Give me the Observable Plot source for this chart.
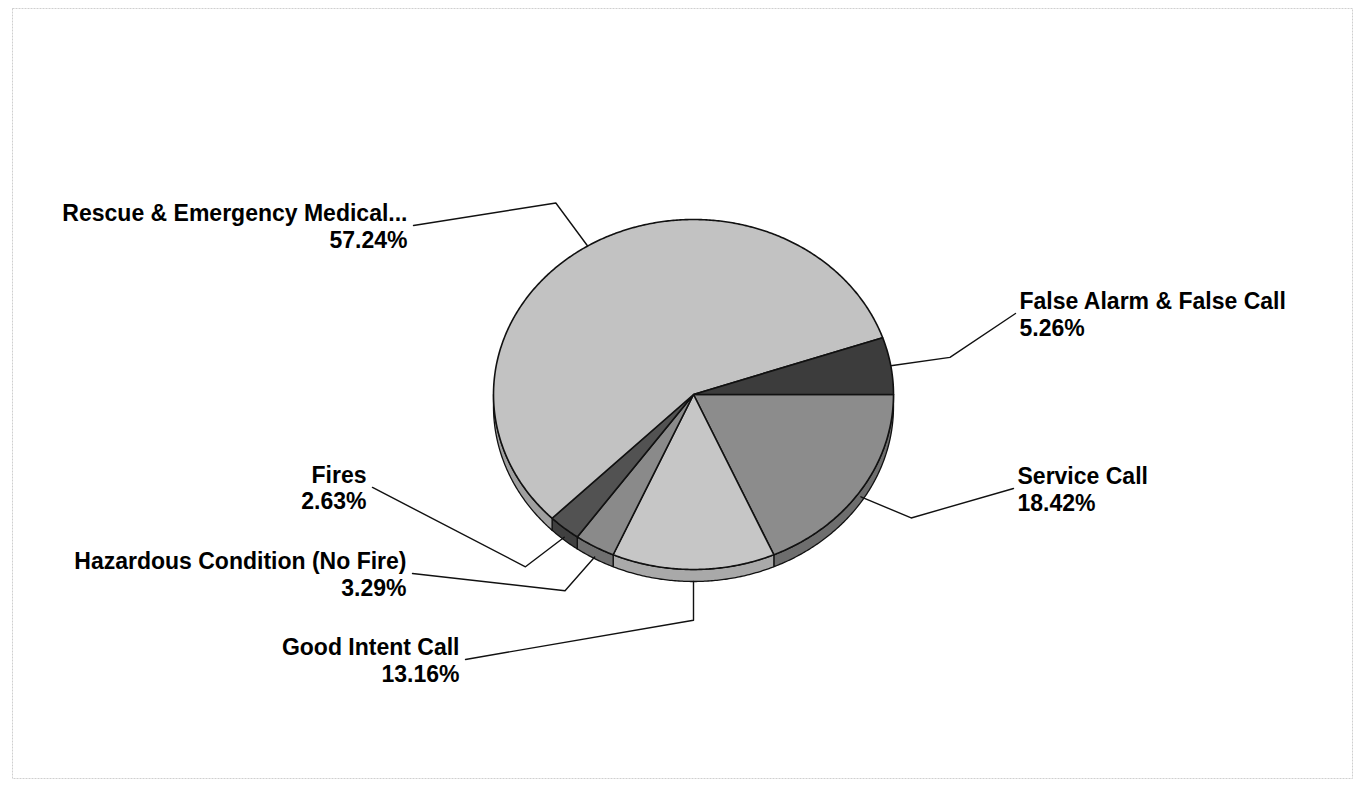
<!DOCTYPE html>
<html>
<head>
<meta charset="utf-8">
<script src="https://cdn.jsdelivr.net/npm/d3@7"></script>
<script src="https://cdn.jsdelivr.net/npm/@observablehq/plot@0.6"></script>
<style>
  html, body { margin: 0; padding: 0; background: #fff; }
  #chart { width: 1362px; height: 785px; }
</style>
</head>
<body>
<div id="chart"></div>
<script>
// ---- data (clockwise from 3 o'clock) ----
const categories = [
  "Service Call",
  "Good Intent Call",
  "Hazardous Condition (No Fire)",
  "Fires",
  "Rescue & Emergency Medical...",
  "False Alarm & False Call"
];
const shares = [18.42, 13.16, 3.29, 2.63, 57.24, 5.26];
const percentLabels = ["18.42%", "13.16%", "3.29%", "2.63%", "57.24%", "5.26%"];

// ---- layout (label anchors in pie-radius units) ----
const labelAnchors = [[1.6, 0.537], [-1.14, 1.514], [-1.405, 1.023], [-1.605, 0.531], [-1.4, -0.966], [1.61, -0.463]];
const topShades = ["#8c8c8c", "#c6c6c6", "#8a8a8a", "#525252", "#c2c2c2", "#3c3c3c"];
const sideShades = ["#6e6e6e", "#a9a9a9", "#707070", "#404040", "#a0a0a0", "#2e2e2e"];

const W = 1362, H = 785;
const rxPx = 200, ryPx = 175, cxPx = 693, cyPx = 394;
const depth = 12 / ryPx;
const frame = {l: 12, t: 8, r: 10, b: 7};

const total = d3.sum(shares);
let acc = 0;
const slices = categories.map((name, i) => {
  const a0 = acc / total * 2 * Math.PI;
  acc += shares[i];
  const a1 = acc / total * 2 * Math.PI;
  return {name, i, a0, a1, mid: (a0 + a1) / 2};
});

function arcPts(a0, a1, dy) {
  const n = Math.max(2, Math.ceil((a1 - a0) / (Math.PI / 360)));
  return d3.range(n + 1).map(k => {
    const a = a0 + (a1 - a0) * k / n;
    return [Math.cos(a), Math.sin(a) + dy];
  });
}

const sidePts = [];
const topPts = [];
slices.forEach(s => {
  const s0 = Math.max(s.a0, 0), s1 = Math.min(s.a1, Math.PI);
  if (s1 > s0) {
    const upper = arcPts(s0, s1, 0);
    const lower = arcPts(s0, s1, depth).reverse();
    [...upper, ...lower].forEach(([x, y]) => sidePts.push({key: s.name + "|side", x, y}));
  }
  [[0, 0], ...arcPts(s.a0, s.a1, 0)].forEach(([x, y]) => topPts.push({key: s.name + "|top", x, y}));
});

const leaderPts = [];
const labels = [];
slices.forEach(s => {
  const c = Math.cos(s.mid), sn = Math.sin(s.mid);
  const [lx, ly] = labelAnchors[s.i];
  leaderPts.push({k: s.name, x: c, y: sn + depth * Math.max(0, sn)});
  leaderPts.push({k: s.name, x: 1.3 * c, y: 1.29 * sn});
  leaderPts.push({k: s.name, x: lx, y: ly});
  labels.push({x: lx, y: ly, side: lx < 0 ? "left" : "right", text: s.name + "\n" + percentLabels[s.i]});
});

const colorDomain = [...slices.map(s => s.name + "|top"), ...slices.map(s => s.name + "|side")];
const colorRange = [...topShades, ...sideShades];

const xDomain = [(frame.l - cxPx) / rxPx, (W - frame.r - cxPx) / rxPx];
const yDomain = [(frame.t - cyPx) / ryPx, (H - frame.b - cyPx) / ryPx];

const font = {fontFamily: "'Liberation Sans', Arial, sans-serif", fontWeight: "bold", fontSize: 23, lineHeight: 1.17, lineAnchor: "middle", fill: "#000"};

const chart = Plot.plot({
  width: W, height: H,
  marginLeft: frame.l, marginTop: frame.t, marginRight: frame.r, marginBottom: frame.b,
  x: {domain: xDomain, range: [frame.l, W - frame.r], axis: null},
  y: {domain: yDomain, range: [frame.t, H - frame.b], axis: null},
  color: {type: "ordinal", domain: colorDomain, range: colorRange},
  style: {background: "#fff", overflow: "visible"},
  marks: [
    Plot.frame({stroke: "#cfcfcf", strokeWidth: 1, strokeDasharray: "2,1"}),
    Plot.line(sidePts, {x: "x", y: "y", z: "key", fill: "key", stroke: "#111", strokeWidth: 1.3, curve: "linear-closed"}),
    Plot.line(topPts, {x: "x", y: "y", z: "key", fill: "key", stroke: "#111", strokeWidth: 1.6, curve: "linear-closed"}),
    Plot.line(leaderPts, {x: "x", y: "y", z: "k", stroke: "#111", strokeWidth: 1.4}),
    Plot.text(labels.filter(d => d.side === "left"), {x: "x", y: "y", text: "text", textAnchor: "end", dx: -6, ...font}),
    Plot.text(labels.filter(d => d.side === "right"), {x: "x", y: "y", text: "text", textAnchor: "start", dx: 4, ...font})
  ]
});
document.getElementById("chart").appendChild(chart);
</script>
</body>
</html>
